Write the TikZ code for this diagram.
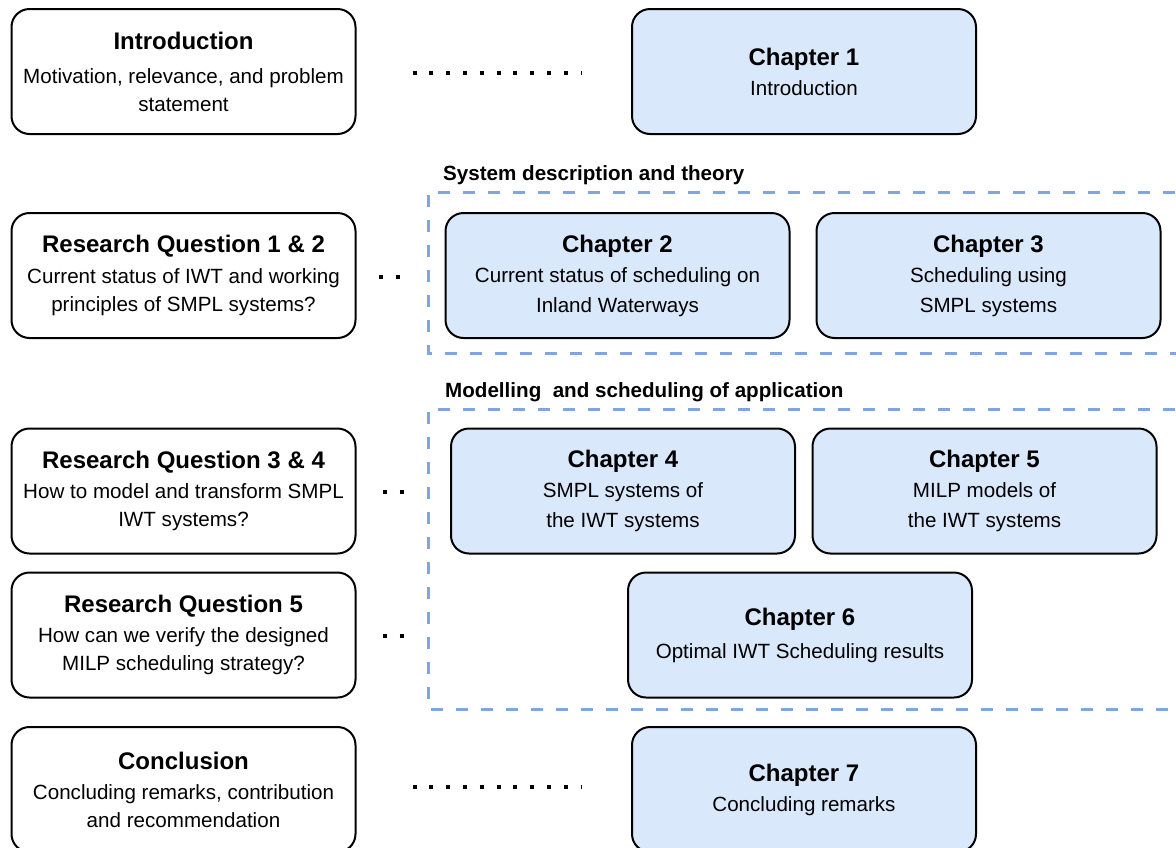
\documentclass[tikz,border=0pt]{standalone}
\usepackage{fontspec}
\setmainfont{Liberation Sans}
\definecolor{chapfill}{HTML}{DAE8FC}
\definecolor{groupline}{HTML}{7EA6E0}
\newcommand\txtleft{\fontsize{20.6}{28}\selectfont}
\newcommand\txtchap{\fontsize{20.6}{30}\selectfont}
\newcommand\txttitle[2][2pt]{{\fontsize{24}{27}\selectfont\bfseries #2}\\[#1]}
\begin{document}
\begin{tikzpicture}[x=1pt,y=-1pt,
  plainbox/.style={draw=black, line width=2pt, rounded corners=18pt,
    minimum width=344pt, minimum height=125pt, inner sep=0pt,
    align=center, font=\txtleft, fill=white},
  chapbox/.style={plainbox, fill=chapfill, font=\txtchap},
  grouplabel/.style={anchor=west, inner sep=0pt, font=\fontsize{20.6}{24}\selectfont\bfseries},
  groupframe/.style={draw=groupline, line width=3pt, dash pattern=on 12pt off 13pt},
  dotrow/.style={draw=black, line width=4pt, dash pattern=on 4pt off 12.8pt},
  dotpair/.style={draw=black, line width=4pt, dash pattern=on 4pt off 13pt}]
\useasboundingbox (0,0) rectangle (1176,847);
\clip (0,0) rectangle (1176,847);

% group frames and their headings
\draw[groupframe] (1200,192) -- (428,192) -- (428,353) -- (1200,353);
\draw[groupframe] (1200,409) -- (428,409) -- (428,709) -- (1200,709);
\node[grouplabel] (g1) at (443,175) {System description and theory};
\node[grouplabel] (g2) at (445,392) {Modelling \ and scheduling of application};

% left column: thesis parts
\node[plainbox] (intro) at (183.5,71.5) {\txttitle[6pt]{Introduction}Motivation, relevance, and problem\\statement};
\node[plainbox] (rq12) at (183.5,275.5) {\txttitle[3pt]{Research Question 1 \& 2}Current status of IWT and working\\principles of SMPL systems?};
\node[plainbox] (rq34) at (183.5,491) {\txttitle{Research Question 3 \& 4}How to model and transform SMPL\\IWT systems?};
\node[plainbox] (rq5) at (183.5,635) {\txttitle{Research Question 5}How can we verify the designed\\MILP scheduling strategy?};
\node[plainbox] (concl) at (183.5,789.5) {\txttitle{Conclusion}Concluding remarks, contribution\\and recommendation};

% right side: chapters
\node[chapbox] (ch1) at (804,71.5) {\txttitle[0pt]{Chapter 1}Introduction};
\node[chapbox] (ch2) at (617.5,275.5) {\txttitle[0pt]{Chapter 2}Current status of scheduling on\\Inland Waterways};
\node[chapbox] (ch3) at (988.5,275.5) {\txttitle[0pt]{Chapter 3}Scheduling using\\SMPL systems};
\node[chapbox] (ch4) at (623,491) {\txttitle[0pt]{Chapter 4}SMPL systems of\\the IWT systems};
\node[chapbox] (ch5) at (984.5,491) {\txttitle[0pt]{Chapter 5}MILP models of\\the IWT systems};
\node[chapbox] (ch6) at (800,635) {\txttitle[3pt]{Chapter 6}Optimal IWT Scheduling results};
\node[chapbox] (ch7) at (804,789.5) {\txttitle[0pt]{Chapter 7}Concluding remarks};

% dotted links between parts and chapters
\draw[dotrow] ([xshift=56pt,yshift=-1.5pt]intro.east) -- ([xshift=-49pt,yshift=-1.5pt]ch1.west);
\draw[dotpair] ([xshift=22pt,yshift=-1.5pt]rq12.east) -- ++(21,0);
\draw[dotpair] ([xshift=26pt,yshift=-1pt]rq34.east) -- ++(21,0);
\draw[dotpair] ([xshift=26pt,yshift=-1pt]rq5.east) -- ++(21,0);
\draw[dotrow] ([xshift=56pt,yshift=3pt]concl.east) -- ([xshift=-49pt,yshift=3pt]ch7.west);
\end{tikzpicture}
\end{document}
